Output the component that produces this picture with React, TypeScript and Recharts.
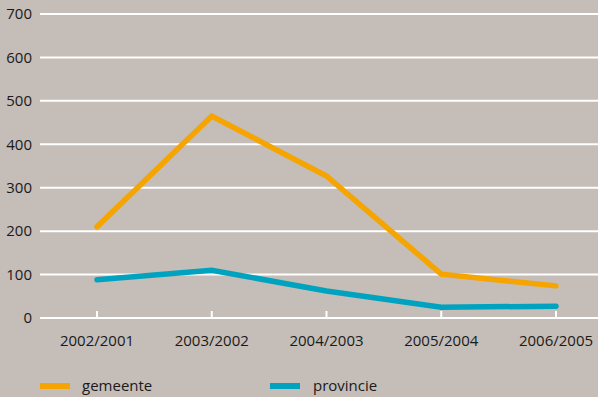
import { LineChart, Line, XAxis, YAxis, CartesianGrid, Legend } from "recharts";

const years = ["2002/2001", "2003/2002", "2004/2003", "2005/2004", "2006/2005"];
const gemeente = [210, 465, 327, 101, 74];
const provincie = [88, 110, 62, 25, 27];
const yTicks = [0, 100, 200, 300, 400, 500, 600, 700];

const BG = "#c4bdb8";
const ORANGE = "#f6a400";
const TEAL = "#00a3bf";
const FONT = "'Open Sans', sans-serif";

const data = years.map((y, i) => ({ year: y, gemeente: gemeente[i], provincie: provincie[i] }));

const XTick = (p: any) => {
  const { x, y, payload } = p;
  return (
    <g>
      <line x1={x} x2={x} y1={y - 7} y2={y} stroke="#fff" strokeWidth={2} />
      <text x={x} y={y + 28} textAnchor="middle" fill="#1a1a1a" fontSize={15} fontFamily={FONT}>
        {payload.value}
      </text>
    </g>
  );
};

const LegendBox = () => (
  <svg width={598} height={30} style={{ display: "block" }}>
    <line x1={40} x2={70} y1={19} y2={19} stroke={ORANGE} strokeWidth={6} />
    <text x={82} y={24} fontSize={15} fontFamily={FONT} fill="#1a1a1a">gemeente</text>
    <line x1={270} x2={300} y1={19} y2={19} stroke={TEAL} strokeWidth={6} />
    <text x={313} y={24} fontSize={15} fontFamily={FONT} fill="#1a1a1a">provincie</text>
  </svg>
);

export default function App() {
  return (
    <div style={{ position: "absolute", left: 0, top: 0, width: 598, height: 397, background: BG }}>
      <LineChart width={598} height={397} data={data} margin={{ top: 14, right: 0, bottom: 0, left: 0 }}>
        <CartesianGrid horizontal vertical={false} stroke="#fff" strokeWidth={2} />
        <XAxis
          dataKey="year"
          axisLine={false}
          tickLine={false}
          tickSize={0}
          tickMargin={0}
          height={49}
          padding={{ left: 57, right: 42 }}
          tick={<XTick />}
          interval={0}
        />
        <YAxis
          width={40}
          domain={[0, 700]}
          ticks={yTicks}
          axisLine={false}
          tickLine={false}
          tick={{ fontSize: 15, fill: "#1a1a1a", fontFamily: FONT }}
        />
        <Legend verticalAlign="bottom" height={30} content={() => <LegendBox />} />
        <Line
          dataKey="gemeente"
          stroke={ORANGE}
          strokeWidth={5.5}
          dot={false}
          strokeLinecap="round"
          isAnimationActive={false}
        />
        <Line
          dataKey="provincie"
          stroke={TEAL}
          strokeWidth={5.5}
          dot={false}
          strokeLinecap="round"
          isAnimationActive={false}
        />
      </LineChart>
    </div>
  );
}
